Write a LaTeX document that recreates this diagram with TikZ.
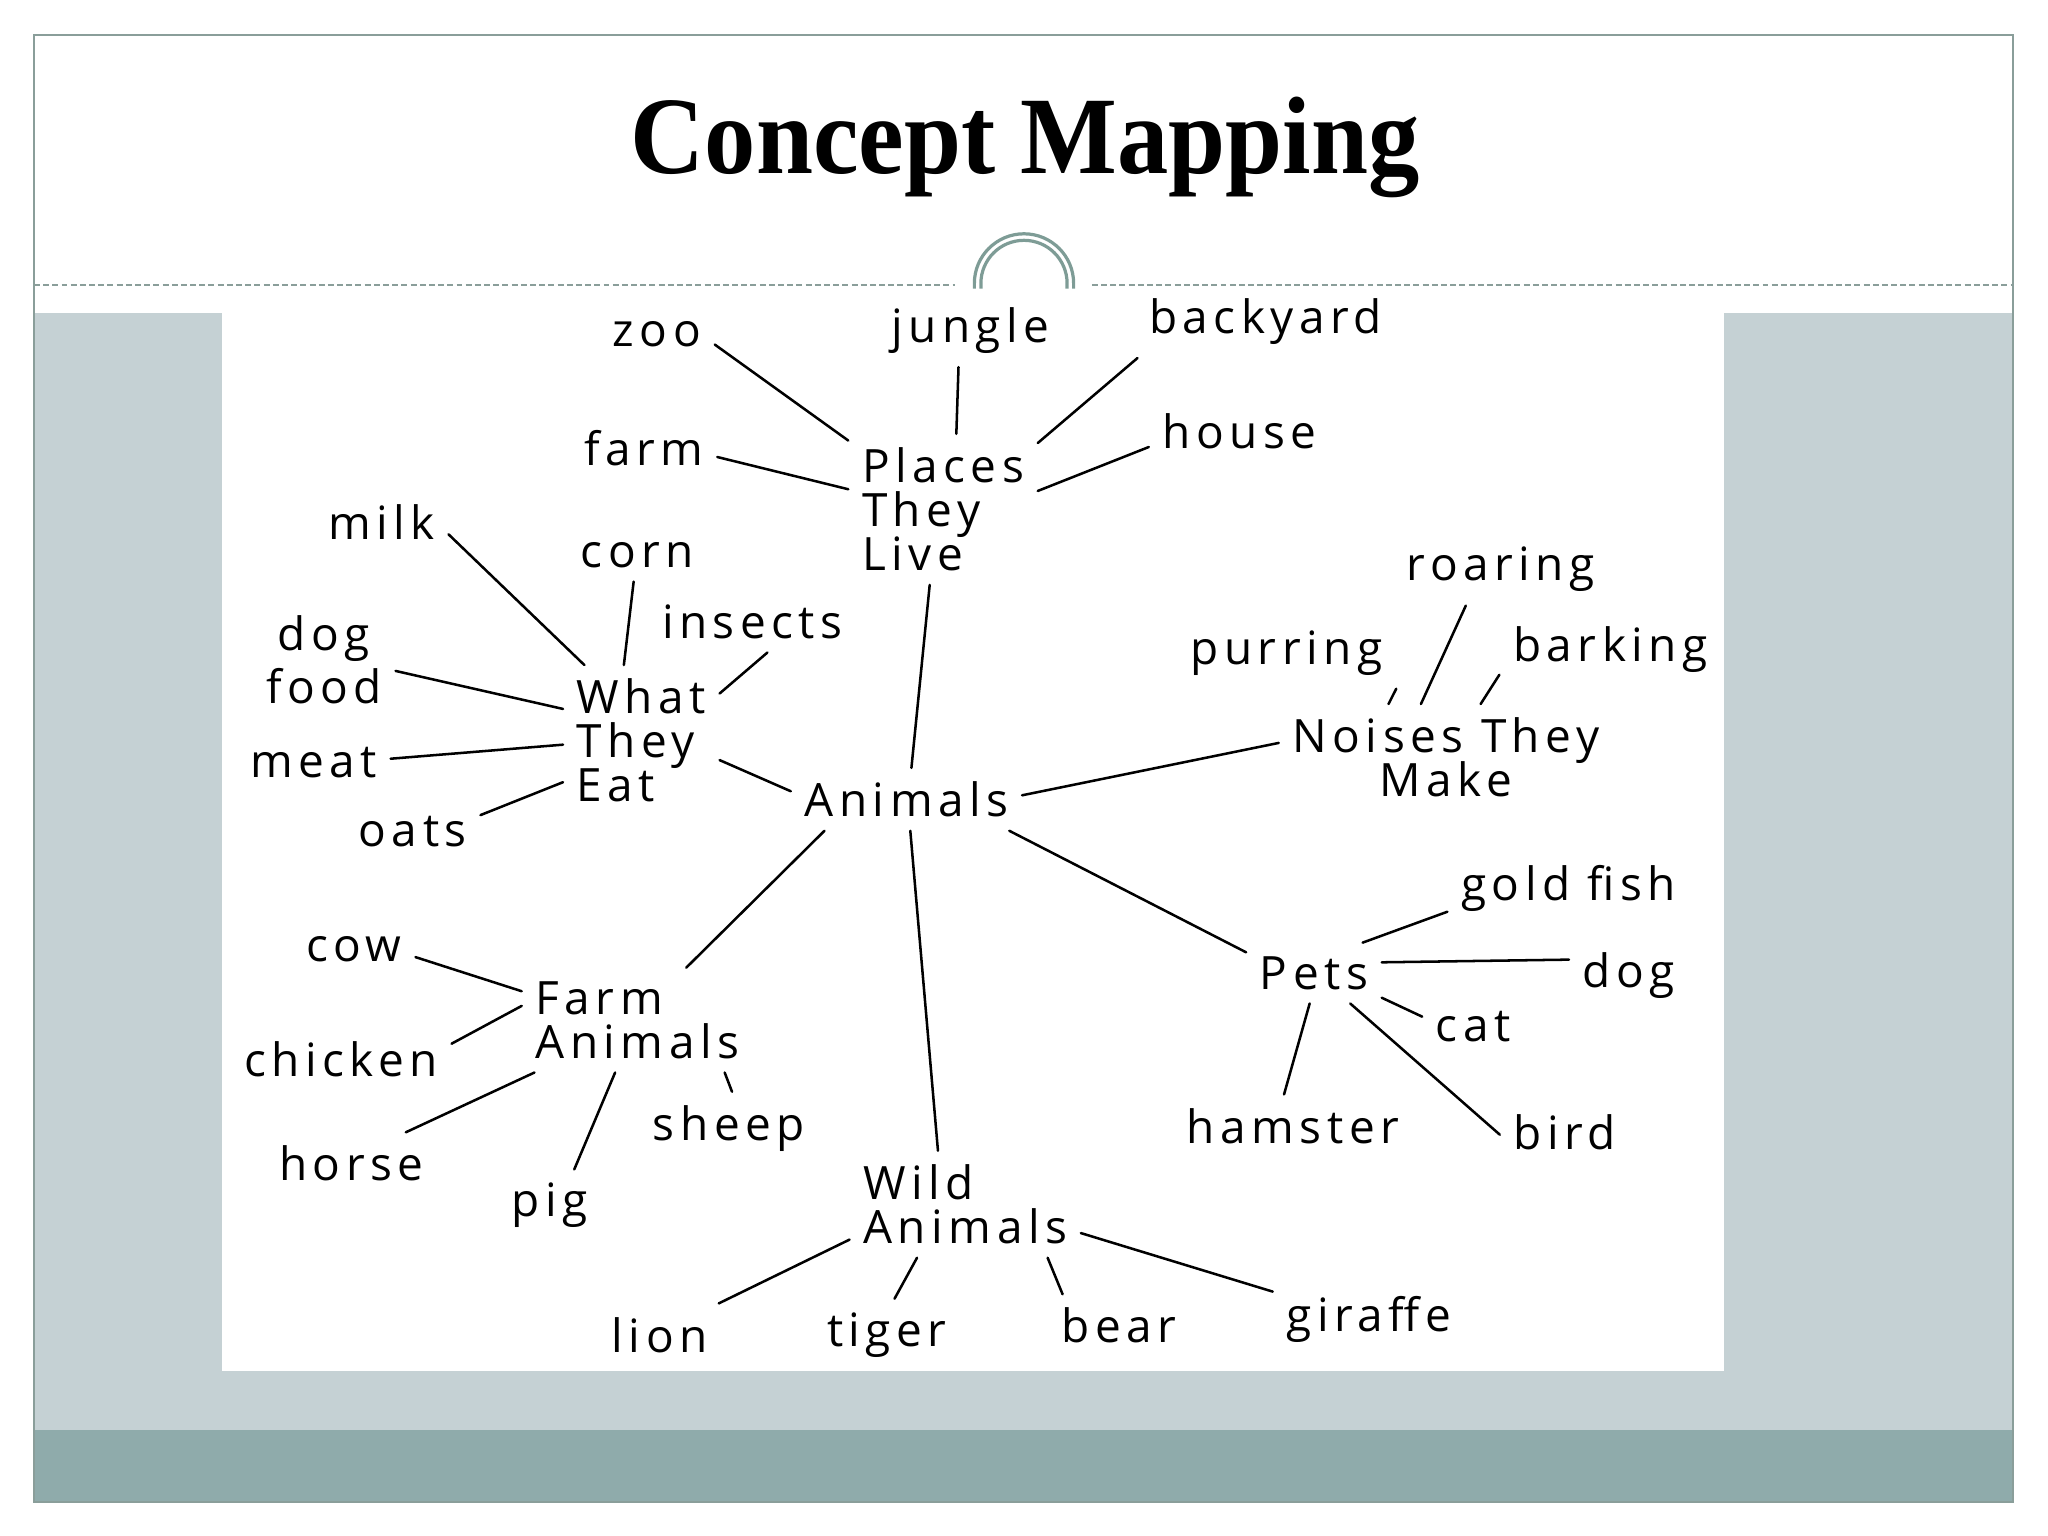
\documentclass[tikz,border=0pt]{standalone}
\usepackage{fontspec}
\usepackage{xcolor}
\usepackage{tikz}
\usetikzlibrary{positioning}
\newfontfamily\handfont[LetterSpace=12]{Open Sans}
\newfontfamily\titlefont{Liberation Serif}
\definecolor{framegray}{HTML}{8A9E9A}
\definecolor{panelgray}{HTML}{C5D1D4}
\definecolor{bandteal}{HTML}{8FABAB}
\definecolor{ringteal}{HTML}{7E9C96}
\begin{document}
\begin{tikzpicture}[x=0.01cm,y=-0.01cm]
	\tikzstyle{word}=[font={\handfont\fontsize{10}{9.6}\selectfont\lineskiplimit=-20pt}, inner sep=1pt, outer sep=2pt, align=left]
	\tikzstyle{link}=[line width=0.55pt, line cap=round]
	\useasboundingbox (0,0) rectangle (1568,1176);
	\fill[panelgray] (26,240) rectangle (1541,1095);
	\fill[bandteal] (26,1095) rectangle (1541,1150);
	\fill[white] (170,238) rectangle (1320,1050);
	\draw[framegray, line width=0.5pt] (26,27) rectangle (1541,1150);
	\draw[framegray, line width=0.4pt, dash pattern=on 1.3pt off 0.7pt] (26,218) -- (731,218) (836,218) -- (1541,218);
	\draw[ringteal, line width=0.7pt] (746,221) -- (746,217) arc[start angle=180, end angle=360, radius=38] -- (822,221);
	\draw[ringteal, line width=0.7pt] (751,221) -- (751,217) arc[start angle=180, end angle=360, radius=33] -- (817,221);
	\node[anchor=base](title) at (785,133) {\titlefont\bfseries\fontsize{24}{24}\selectfont\scalebox{0.93}[1]{Concept Mapping}};
	\node[word](animals) at (694,612) {Animals};
	\node[word](places) at (722,390) {Places\\They\\Live};
	\node[word](what) at (491,567) {What\\They\\Eat};
	\node[word,align=center](noises) at (1107,580) {Noises They\\Make};
	\node[word](pets) at (1006,745) {Pets};
	\node[word](farmanimals) at (488,781) {Farm\\Animals};
	\node[word](wild) at (739,922) {Wild\\Animals};
	\node[word](zoo) at (503,256) {zoo};
	\node[word](jungle) at (743,253) {jungle};
	\node[word](backyard) at (969,246) {backyard};
	\node[word](farm) at (493,343) {farm};
	\node[word](house) at (949,330) {house};
	\node[word](milk) at (292,400) {milk};
	\node[word](corn) at (488,425) {corn};
	\node[word](insects) at (576,476) {insects};
	\node[word,align=center](dogfood) at (248,505) {dog\\[2pt]food};
	\node[word](meat) at (240,584) {meat};
	\node[word](oats) at (316,637) {oats};
	\node[word](roaring) at (1149,436) {roaring};
	\node[word](purring) at (985,500) {purring};
	\node[word](barking) at (1233,497) {barking};
	\node[word](goldfish) at (1201,680) {gold fish};
	\node[word](dog) at (1247,747) {dog};
	\node[word](cat) at (1128,786) {cat};
	\node[word](hamster) at (990,862) {hamster};
	\node[word](bird) at (1198,867) {bird};
	\node[word](cow) at (271,727) {cow};
	\node[word](chicken) at (261,811) {chicken};
	\node[word](horse) at (269,891) {horse};
	\node[word](pig) at (421,923) {pig};
	\node[word](sheep) at (558,864) {sheep};
	\node[word](lion) at (505,1022) {lion};
	\node[word](tiger) at (679,1022) {tiger};
	\node[word](bear) at (857,1015) {bear};
	\node[word](giraffe) at (1048,1010) {giraffe};
	\draw[link](zoo.-10) -- (places.144);
	\draw[link](jungle.-108) -- (places.80);
	\draw[link](backyard.196) -- (places.35);
	\draw[link](farm.-7) -- (places.168);
	\draw[link](house.190) -- (places.11);
	\draw[link](places.-100) -- (animals.81);
	\draw[link](milk.-10) -- (what.127);
	\draw[link](corn.-98) -- (what.103);
	\draw[link](insects.-64) -- (what.31);
	\draw[link](dogfood.-9) -- (what.158);
	\draw[link](meat.3) -- (what.183);
	\draw[link](oats.14) -- (what.208);
	\draw[link](what.-14) -- (animals.176);
	\draw[link](animals.2) -- (noises.175);
	\draw[link](roaring.226) -- (noises.115);
	\draw[link](purring.-18) -- (noises.137);
	\draw[link](barking.193) -- (noises.57);
	\draw[link](animals.-17) -- (pets.163);
	\draw[link](goldfish.191) -- (pets.32);
	\draw[link](dog.165) -- (pets.9);
	\draw[link](cat.169) -- (pets.-20);
	\draw[link](hamster.106) -- (pets.-98);
	\draw[link](bird.182) -- (pets.-40);
	\draw[link](animals.201) -- (farmanimals.47);
	\draw[link](cow.-7) -- (farmanimals.166);
	\draw[link](chicken.8) -- (farmanimals.173);
	\draw[link](horse.30) -- (farmanimals.207);
	\draw[link](pig.56) -- (farmanimals.247);
	\draw[link](sheep.85) -- (farmanimals.-31);
	\draw[link](animals.-83) -- (wild.117);
	\draw[link](lion.28) -- (wild.197);
	\draw[link](tiger.78) -- (wild.228);
	\draw[link](bear.151) -- (wild.-33);
	\draw[link](giraffe.164) -- (wild.-14);
\end{tikzpicture}
\end{document}
